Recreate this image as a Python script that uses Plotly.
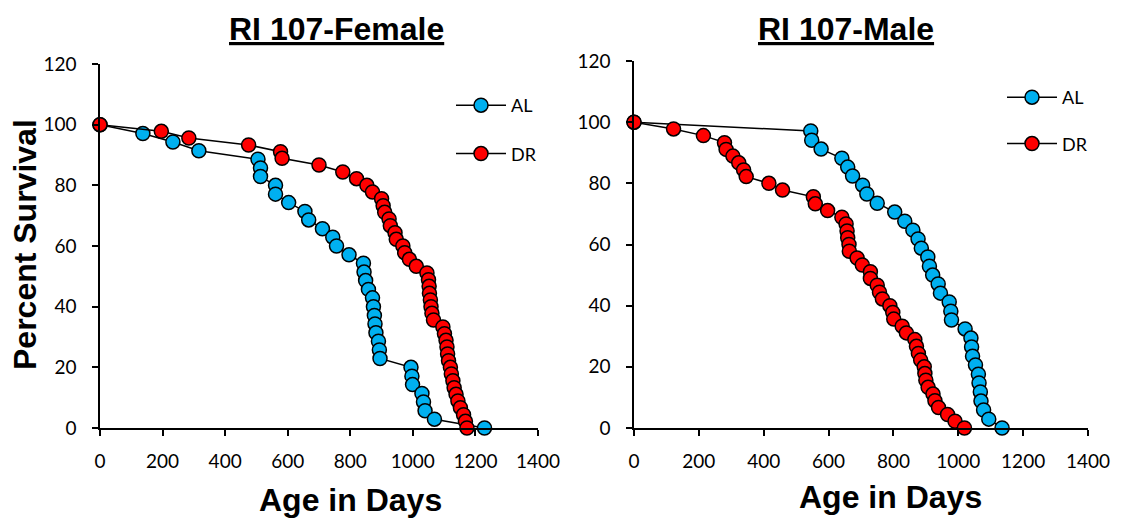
import plotly.graph_objects as go

# ---------------- data ----------------
female_al_days = [0, 137, 233, 316, 505, 513, 513, 561, 561, 603, 655, 667, 711, 744, 756, 796,
                  842, 844, 849, 858, 871, 874, 877, 879, 882, 890, 893, 895, 994, 997, 999,
                  1029, 1034, 1039, 1069, 1229]
female_al_surv = [100.0, 97.1, 94.3, 91.4, 88.6, 85.7, 82.9, 80.0, 77.1, 74.3, 71.4, 68.6, 65.7,
                  62.9, 60.0, 57.1, 54.3, 51.4, 48.6, 45.7, 42.9, 40.0, 37.1, 34.3, 31.4, 28.6,
                  25.7, 22.9, 20.0, 17.1, 14.3, 11.4, 8.6, 5.7, 2.9, 0.0]

female_dr_days = [0, 196, 284, 475, 577, 582, 700, 776, 820, 853, 871, 900, 905, 910, 924, 928,
                  943, 947, 968, 974, 989, 1011, 1045, 1050, 1052, 1053, 1056, 1058, 1061, 1066,
                  1096, 1101, 1106, 1109, 1111, 1114, 1120, 1123, 1128, 1132, 1138, 1144, 1152,
                  1162, 1168, 1173]
female_dr_surv = [100.0, 97.8, 95.6, 93.3, 91.1, 88.9, 86.7, 84.4, 82.2, 80.0, 77.8, 75.6, 73.3,
                  71.1, 68.9, 66.7, 64.4, 62.2, 60.0, 57.8, 55.6, 53.3, 51.1, 48.9, 46.7, 44.4,
                  42.2, 40.0, 37.8, 35.6, 33.3, 31.1, 28.9, 26.7, 24.4, 22.2, 20.0, 17.8, 15.6,
                  13.3, 11.1, 8.9, 6.7, 4.4, 2.2, 0.0]

male_al_days = [0, 545, 548, 577, 641, 659, 674, 705, 718, 750, 804, 835, 860, 876, 886, 906,
                911, 921, 938, 945, 972, 977, 979, 1021, 1039, 1041, 1044, 1053, 1062, 1064,
                1068, 1070, 1078, 1094, 1135]
male_al_surv = [100.0, 97.1, 94.1, 91.2, 88.2, 85.3, 82.4, 79.4, 76.5, 73.5, 70.6, 67.6, 64.7,
                61.8, 58.8, 55.9, 52.9, 50.0, 47.1, 44.1, 41.2, 38.2, 35.3, 32.4, 29.4, 26.5,
                23.5, 20.6, 17.6, 14.7, 11.8, 8.8, 5.9, 2.9, 0.0]

male_dr_days = [0, 122, 214, 279, 284, 305, 323, 338, 346, 416, 458, 553, 559, 597, 641, 654,
                657, 659, 663, 664, 688, 704, 729, 729, 750, 757, 766, 789, 798, 801, 827, 840,
                866, 871, 877, 884, 895, 897, 900, 907, 922, 928, 939, 967, 990, 1019]
male_dr_surv = [100.0, 97.8, 95.6, 93.3, 91.1, 88.9, 86.7, 84.4, 82.2, 80.0, 77.8, 75.6, 73.3,
                71.1, 68.9, 66.7, 64.4, 62.2, 60.0, 57.8, 55.6, 53.3, 51.1, 48.9, 46.7, 44.4,
                42.2, 40.0, 37.8, 35.6, 33.3, 31.1, 28.9, 26.7, 24.4, 22.2, 20.0, 17.8, 15.6,
                13.3, 11.1, 8.9, 6.7, 4.4, 2.2, 0.0]

panel_titles = ["RI 107-Female", "RI 107-Male"]
x_title = "Age in Days"
y_title = "Percent Survival"
series_names = ["AL", "DR"]
series_colors = ["#00B0F0", "#FF0000"]
x_ticks = [0, 200, 400, 600, 800, 1000, 1200, 1400]
y_ticks = [0, 20, 40, 60, 80, 100, 120]

# ---------------- figure ----------------
W, H = 1121, 521
TICK_FONT = dict(family="Lato, Carlito, Calibri, sans-serif", size=19, color="black")
BOLD_FONT = "Liberation Sans, Arial, sans-serif"
BOLD_SIZE = 32

fig = go.Figure()

panels = [
    (female_al_days, female_al_surv, female_dr_days, female_dr_surv, "x", "y", "legend"),
    (male_al_days, male_al_surv, male_dr_days, male_dr_surv, "x2", "y2", "legend2"),
]
for al_d, al_s, dr_d, dr_s, xa, ya, lg in panels:
    for (d, s), name, col in zip([(al_d, al_s), (dr_d, dr_s)], series_names, series_colors):
        fig.add_trace(go.Scatter(
            x=d, y=s, name=name, mode="lines+markers",
            xaxis=xa, yaxis=ya, legend=lg, legendgroup=name,
            cliponaxis=False,
            line=dict(color="black", width=1.5),
            marker=dict(symbol="circle", size=14, color=col,
                        line=dict(color="black", width=1.5)),
        ))

def px_x(p):
    return p / W

def px_y(p):
    return 1 - p / H

axis_common = dict(
    showline=True, linecolor="black", linewidth=1.5,
    ticks="outside", ticklen=6, tickwidth=1.5, tickcolor="black",
    showgrid=False, zeroline=False, tickfont=TICK_FONT, automargin=False,
)

bold = dict(family=BOLD_FONT, size=BOLD_SIZE, color="black")

fig.update_layout(
    width=W, height=H,
    margin=dict(l=0, r=0, t=0, b=0, autoexpand=False),
    paper_bgcolor="white", plot_bgcolor="white",
    xaxis=dict(domain=[px_x(100), px_x(538)], range=[0, 1400], tickvals=x_ticks,
               anchor="y", ticklabelstandoff=9, **axis_common),
    yaxis=dict(domain=[px_y(428), px_y(64)], range=[0, 120], tickvals=y_ticks,
               anchor="x", ticklabelstandoff=12, **axis_common),
    xaxis2=dict(domain=[px_x(634), px_x(1088)], range=[0, 1400], tickvals=x_ticks,
                anchor="y2", ticklabelstandoff=9, **axis_common),
    yaxis2=dict(domain=[px_y(428), px_y(61)], range=[0, 120], tickvals=y_ticks,
                anchor="x2", ticklabelstandoff=12, **axis_common),
    legend=dict(x=px_x(451), y=px_y(87), xanchor="left", yanchor="top",
                bgcolor="rgba(0,0,0,0)", font=dict(family=TICK_FONT["family"], size=18, color="black"),
                tracegroupgap=22, itemwidth=50),
    legend2=dict(x=px_x(1002), y=px_y(79), xanchor="left", yanchor="top",
                 bgcolor="rgba(0,0,0,0)", font=dict(family=TICK_FONT["family"], size=18, color="black"),
                 tracegroupgap=20, itemwidth=50),
    annotations=[
        dict(text="<b><u>" + panel_titles[0] + "</u></b>", xref="x domain", yref="paper",
             x=0.54, y=px_y(29), xanchor="center", yanchor="middle", showarrow=False, font=bold),
        dict(text="<b><u>" + panel_titles[1] + "</u></b>", xref="x2 domain", yref="paper",
             x=0.467, y=px_y(29), xanchor="center", yanchor="middle", showarrow=False, font=bold),
        dict(text="<b>" + x_title + "</b>", xref="x domain", yref="paper",
             x=0.571, y=px_y(500), xanchor="center", yanchor="middle", showarrow=False, font=bold),
        dict(text="<b>" + x_title + "</b>", xref="x2 domain", yref="paper",
             x=0.564, y=px_y(497), xanchor="center", yanchor="middle", showarrow=False, font=bold),
        dict(text="<b>" + y_title + "</b>", xref="paper", yref="paper", textangle=-90,
             x=px_x(25), y=px_y(245), xanchor="center", yanchor="middle", showarrow=False, font=bold),
    ],
)

# remove the default page margin so the figure fills the window exactly
fig.write_html(
    "out.html",
    config={"displayModeBar": False},
    post_script="document.body.style.margin='0';document.body.style.overflow='hidden';",
)
